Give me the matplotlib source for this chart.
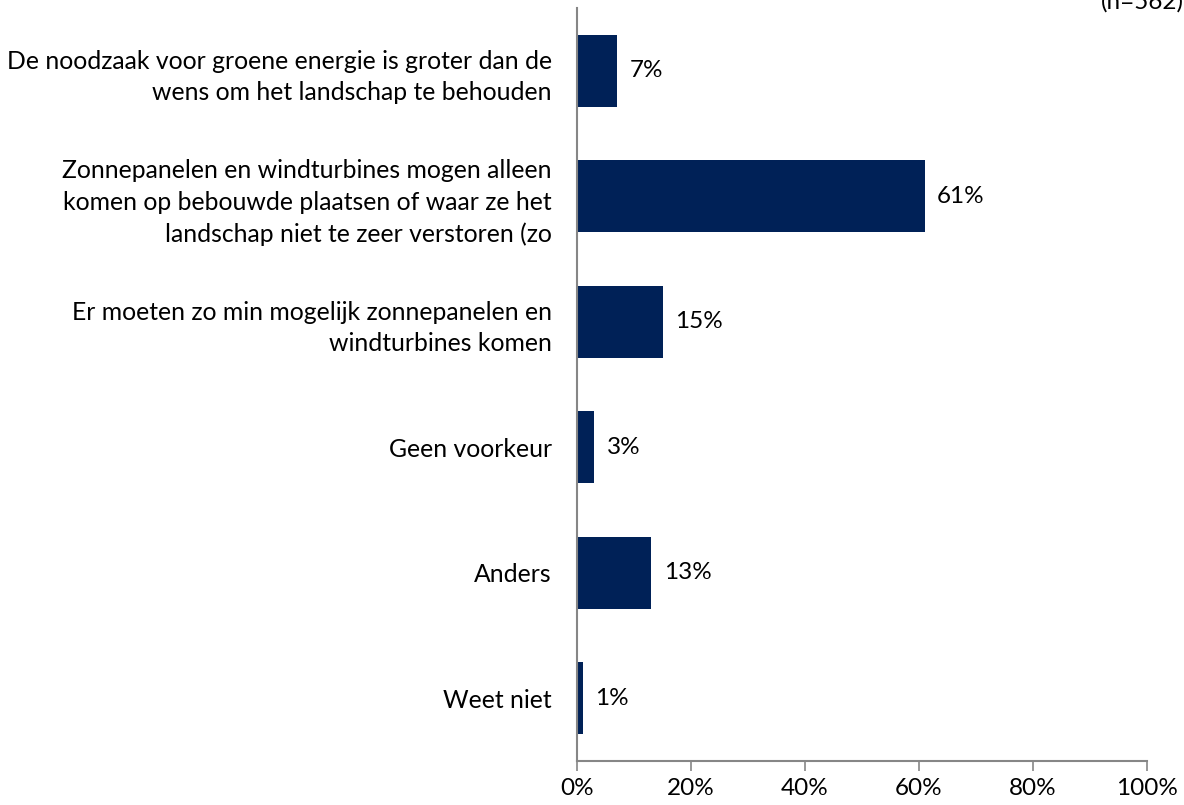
import matplotlib
matplotlib.use("Agg")
import matplotlib.pyplot as plt

# data
categories = [
    "De noodzaak voor groene energie is groter dan de\nwens om het landschap te behouden",
    "Zonnepanelen en windturbines mogen alleen\nkomen op bebouwde plaatsen of waar ze het\nlandschap niet te zeer verstoren (zo",
    "Er moeten zo min mogelijk zonnepanelen en\nwindturbines komen",
    "Geen voorkeur",
    "Anders",
    "Weet niet",
]
values = [7, 61, 15, 3, 13, 1]
value_labels = ["7%", "61%", "15%", "3%", "13%", "1%"]
xticks = [0, 20, 40, 60, 80, 100]
xtick_labels = ["0%", "20%", "40%", "60%", "80%", "100%"]

plt.rcParams['font.family'] = ['Lato', 'DejaVu Sans']

fig = plt.figure(figsize=(11.84, 8.05), dpi=100)
ax = fig.add_axes([577 / 1184, 44 / 805, 570 / 1184, 753 / 805])

ypos = list(range(len(categories)))
ax.barh(ypos, values, height=0.57, color="#002157")
ax.set_ylim(len(categories) - 0.5, -0.5)
ax.set_xlim(0, 100)

for y, v, lab in zip(ypos, values, value_labels):
    ax.text(v + 2.2, y, lab, va="center", ha="left", fontsize=17.5, color="#000000")

ax.set_yticks(ypos)
ax.set_yticklabels(categories, fontsize=17.8, linespacing=1.45)
ax.tick_params(axis="y", length=0, pad=18)
ax.set_xticks(xticks)
ax.set_xticklabels(xtick_labels, fontsize=17.5)
ax.tick_params(axis="x", length=7, width=1.2, color="#868686", pad=5)

for s in ["top", "right"]:
    ax.spines[s].set_visible(False)
for s in ["left", "bottom"]:
    ax.spines[s].set_color("#868686")
    ax.spines[s].set_linewidth(1.5)

fig.text(1.0, 0.998, "(n=562)", ha="right", va="center", fontsize=17.5)

fig.savefig("out.png", dpi=100)
